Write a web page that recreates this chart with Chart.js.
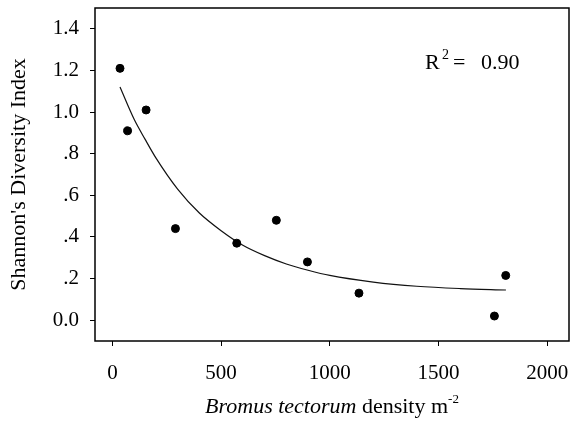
<!DOCTYPE html>
<html>
<head>
<meta charset="utf-8">
<script src="https://cdn.jsdelivr.net/npm/chart.js@4.4.1/dist/chart.umd.min.js"></script>
<style>
  body { margin: 0; background: #fff; }
  #wrap { width: 571px; height: 421px; }
</style>
</head>
<body>
<div id="wrap"><canvas id="myChart" width="571" height="421"></canvas></div>
<script>
// observed points: Bromus density vs Shannon index
const density = [35, 70, 155, 290, 572, 754, 897, 1134, 1757, 1809];
const shannon = [1.21, 0.91, 1.01, 0.44, 0.37, 0.48, 0.28, 0.13, 0.02, 0.215];

// fitted curve
const fitX = [35, 100, 150, 200, 300, 400, 500, 600, 700, 800, 900, 1000, 1200, 1400, 1600, 1810];
const fitY = [1.12, 0.965, 0.87, 0.78, 0.63, 0.515, 0.43, 0.36, 0.31, 0.27, 0.24, 0.215, 0.183, 0.163, 0.152, 0.145];

const xTicks = [0, 500, 1000, 1500, 2000];
const yTicks = [0, 0.2, 0.4, 0.6, 0.8, 1.0, 1.2, 1.4];
const yTickLabels = ['0.0', '.2', '.4', '.6', '.8', '1.0', '1.2', '1.4'];

const rSquared = '0.90';
const serif = "'Liberation Serif', 'Times New Roman', serif";

const frame = {
  id: 'frame',
  afterDraw: (chart) => {
    const ctx = chart.ctx;
    const a = chart.chartArea;
    ctx.save();
    ctx.strokeStyle = '#000';
    ctx.lineWidth = 1.5;
    ctx.strokeRect(a.left, a.top, a.right - a.left, a.bottom - a.top);

    // R^2 note
    ctx.fillStyle = '#000';
    ctx.textBaseline = 'alphabetic';
    ctx.textAlign = 'left';
    ctx.font = '22px ' + serif;
    ctx.fillText('R', 425, 69);
    ctx.fillText('=', 453, 69);
    ctx.fillText(rSquared, 481, 69);
    ctx.font = '14px ' + serif;
    ctx.fillText('2', 442, 59);

    // x axis title, mixed italic + superscript
    const parts = [
      {t: 'Bromus tectorum', f: 'italic 22px ' + serif, dy: 0},
      {t: ' density m', f: '22px ' + serif, dy: 0},
      {t: '-2', f: '13px ' + serif, dy: -10}
    ];
    let total = 0;
    parts.forEach(p => { ctx.font = p.f; total += ctx.measureText(p.t).width; });
    let tx = (a.left + a.right) / 2 - total / 2;
    const ty = 413;
    parts.forEach(p => {
      ctx.font = p.f;
      ctx.fillText(p.t, tx, ty + p.dy);
      tx += ctx.measureText(p.t).width;
    });
    ctx.restore();
  }
};

function noPad(s) {
  s.paddingTop = 0;
  s.paddingBottom = 0;
  s.paddingLeft = 0;
  s.paddingRight = 0;
}

const data = {
  datasets: [{
    type: 'scatter',
    label: 'observed',
    data: density.map((d, i) => ({x: d, y: shannon[i]})),
    backgroundColor: '#000',
    borderColor: '#000',
    pointRadius: 4,
    pointHoverRadius: 4
  }, {
    type: 'line',
    label: 'fit',
    data: fitX.map((d, i) => ({x: d, y: fitY[i]})),
    borderColor: '#111',
    borderWidth: 1.2,
    pointRadius: 0,
    cubicInterpolationMode: 'monotone',
    fill: false
  }]
};

const config = {
  data: data,
  options: {
    responsive: false,
    animation: false,
    layout: {autoPadding: false, padding: {top: 8, right: 2, left: 0, bottom: 0}},
    plugins: {legend: {display: false}, tooltip: {enabled: false}},
    scales: {
      x: {
        type: 'linear',
        min: -80,
        max: 2100,
        afterBuildTicks: (s) => { s.ticks = xTicks.map(v => ({value: v})); },
        afterFit: (s) => { s.height = 80; noPad(s); },
        grid: {drawOnChartArea: false, drawTicks: true, tickLength: 5, color: '#000', lineWidth: 1},
        border: {display: false},
        ticks: {color: '#000', font: {family: serif, size: 21}, padding: 15, maxRotation: 0,
          callback: (v) => String(v)}
      },
      y: {
        type: 'linear',
        min: -0.1,
        max: 1.5,
        afterBuildTicks: (s) => { s.ticks = yTicks.map(v => ({value: v})); },
        afterFit: (s) => { s.width = 95; noPad(s); },
        grid: {drawOnChartArea: false, drawTicks: true, tickLength: 5, color: '#000', lineWidth: 1},
        border: {display: false},
        ticks: {color: '#000', font: {family: serif, size: 21}, padding: 11,
          callback: (v) => yTickLabels[yTicks.findIndex(t => Math.abs(t - v) < 1e-6)]},
        title: {display: true, text: "Shannon's Diversity Index", color: '#000',
          font: {family: serif, size: 22}, padding: {top: 6, bottom: 0}}
      }
    }
  },
  plugins: [frame]
};

const myChart = new Chart(document.getElementById('myChart'), config);
</script>
</body>
</html>
